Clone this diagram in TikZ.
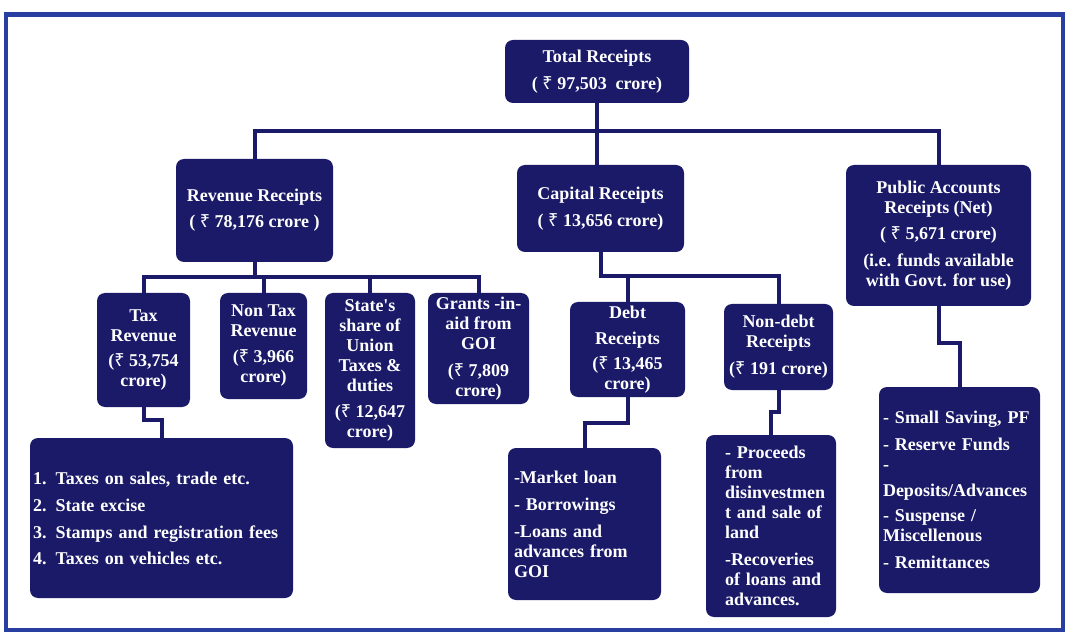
\documentclass[tikz,border=0pt]{standalone}
\usepackage{fontspec}
\setmainfont{Liberation Serif}
\newfontfamily\rupeefont{Noto Sans}
\newcommand{\rs}{{\rupeefont ₹}}
\definecolor{navy}{RGB}{26,26,104}
\definecolor{frameblue}{RGB}{40,62,160}
\begin{document}
\begin{tikzpicture}[x=1pt,y=-1pt,
  box/.style={fill=navy, rounded corners=8pt, text=white,
    font=\bfseries\fontsize{18}{20}\selectfont, inner xsep=2pt, inner ysep=0pt, align=center},
  listbox/.style={box, align=left},
  conn/.style={draw=navy, line width=4pt},
  frame/.style={draw=frameblue, line width=4pt}
  ]
\useasboundingbox (0,0) rectangle (1066,636);
\fill[white] (0,0) rectangle (1066,636);
\draw[frame] (6,14) rectangle (1063,630);
\draw[frameblue, line width=3pt] (6,15.5) -- (1063,15.5);

% level 0
\node[box, minimum width=184pt, minimum height=63pt] (total) at (597,71.5)
  {Total Receipts\\[7pt]( \rs\ 97,503\ \ crore)};

% level 1
\node[box, minimum width=157pt, minimum height=103pt] (rev) at (254.5,210.5)
  {Revenue Receipts\\[6pt]( \rs\ 78,176 crore )};
\node[box, minimum width=167pt, minimum height=87pt] (cap) at (600.5,208.5)
  {Capital Receipts\\[7pt]( \rs\ 13,656 crore)};
\node[box, minimum width=185pt, minimum height=141pt] (pub) at (938.5,235.5)
  {Public Accounts\\Receipts (Net)\\[6pt]( \rs\ 5,671 crore)\\[7pt](i.e. funds available\\with Govt. for use)};

% level 2
\node[box, minimum width=93pt, minimum height=114pt] (tax) at (143.5,350)
  {Tax\\Revenue\\[5pt](\rs\ 53,754\\crore)};
\node[box, minimum width=87pt, minimum height=106pt] (nontax) at (263.5,346)
  {Non Tax\\Revenue\\[6pt](\rs\ 3,966\\crore)};
\node[box, minimum width=90pt, minimum height=155pt] (share) at (370,370.5)
  {State\textquotesingle s\\share of\\Union\\Taxes \&\\duties\\[6pt](\rs\ 12,647\\crore)};
\node[box, minimum width=101pt, minimum height=111pt] (grants) at (478.5,348.5)
  {Grants -in-\\aid from\\GOI\\[7pt](\rs\ 7,809\\crore)};
\node[box, minimum width=115pt, minimum height=95pt] (debt) at (627.5,349.5)
  {Debt\\[6pt]Receipts\\[5pt](\rs\ 13,465\\crore)};
\node[box, minimum width=109pt, minimum height=86pt] (nondebt) at (778.5,347)
  {Non-debt\\Receipts\\[7pt](\rs\ 191 crore)};

% level 3
\node[listbox, inner xsep=3pt, text width=257pt, minimum height=160pt] (taxlist) at (161.5,518)
  {1. Taxes on sales, trade etc.\\[7pt]2. State excise\\[7pt]3. Stamps and registration fees\\[6pt]4. Taxes on vehicles etc.};
\node[listbox, inner xsep=6pt, text width=141pt, minimum height=152pt] (market) at (584.5,524)
  {-Market loan\\[7pt]- Borrowings\\[7pt]-Loans and\\advances from\\GOI};
\node[listbox, inner xsep=19pt, text width=92pt, minimum height=182pt] (proceeds) at (771,526)
  {\mbox{- Proceeds}\\from\\\mbox{disinvestmen}\\\mbox{t and sale of}\\land\\[7pt]\mbox{-Recoveries}\\\mbox{of loans and}\\\mbox{advances.}};
\node[listbox, inner xsep=4pt, text width=153pt, minimum height=206pt] (publist) at (959.5,490)
  {- Small Saving, PF\\[7pt]- Reserve Funds\\-\\[6pt]Deposits/Advances\\[5pt]- Suspense /\\Miscellenous\\[7pt]- Remittances};

% connectors
\draw[conn] (total.south) -- (total.south |- cap.north);
\draw[conn] (rev.north) -- ++(0,-28) -| (pub.north);
\draw[conn] (rev.south) -- ++(0,15) coordinate (rj);
\draw[conn] (tax.north) |- (grants.north |- rj) -- (grants.north);
\draw[conn] (nontax.north) -- (nontax.north |- rj);
\draw[conn] (share.north) -- (share.north |- rj);
\draw[conn] (tax.south) -- ++(0,13) -| (taxlist.north);
\draw[conn] (cap.south) -- ++(0,24) coordinate (cj) -| (nondebt.north);
\draw[conn] (debt.north) -- (debt.north |- cj);
\draw[conn] (debt.south) -- ++(0,26) -| (market.north);
\draw[conn] (nondebt.south) -- ++(0,22) -| (proceeds.north);
\draw[conn] (pub.south) -- ++(0,37) -| (publist.north);
\end{tikzpicture}
\end{document}
